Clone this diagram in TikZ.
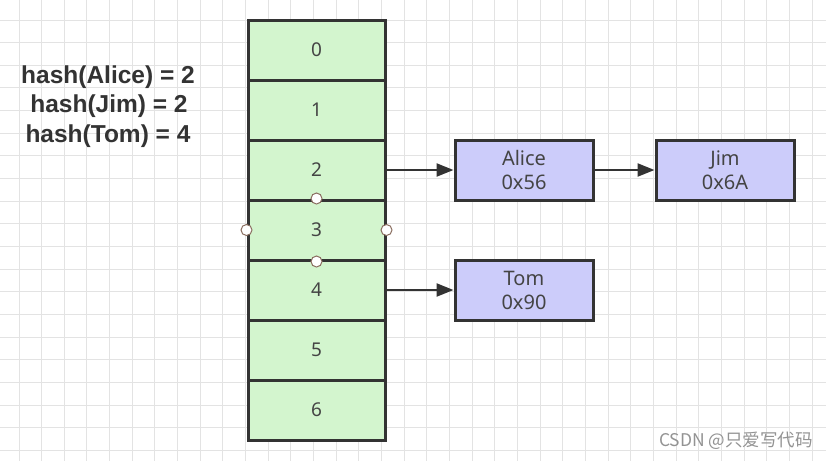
\documentclass[tikz,border=0pt]{standalone}
\usepackage{fontspec}
\setmainfont{Noto Sans}
\newfontfamily\hashfont{Liberation Sans}
\newfontfamily\cjkfont{Noto Sans CJK SC}
\usetikzlibrary{arrows.meta}
\definecolor{gridc}{HTML}{E3E3E3}
\definecolor{cellg}{HTML}{D3F5CE}
\definecolor{boxb}{HTML}{CCCCFA}
\definecolor{edgec}{HTML}{333333}
\definecolor{txtc}{HTML}{444444}
\definecolor{handlec}{HTML}{8A6E60}
\tikzset{
  cellbox/.style={draw=edgec, fill=cellg, line width=3pt, minimum width=137pt, minimum height=60pt, inner sep=0pt, text=txtc, font=\fontsize{19}{21}\selectfont},
  itembox/.style={draw=edgec, fill=boxb, line width=3pt, minimum width=138pt, minimum height=60pt, inner sep=0pt, text=txtc, align=center, font=\fontsize{20}{24}\selectfont},
  hashtxt/.style={font=\hashfont\bfseries\fontsize{24.5}{26}\selectfont, text=edgec, inner sep=0pt},
  link/.style={draw=edgec, line width=2.3pt, -{Triangle[length=17pt,width=13pt]}},
  handle/.style={circle, draw=handlec, fill=white, line width=1pt, minimum size=11pt, inner sep=0pt}
}
\begin{document}
\begin{tikzpicture}[x=1pt,y=-1pt]
\useasboundingbox (0,0) rectangle (826,461);
\fill[white] (0,0) rectangle (826,461);
% grid
\foreach \k in {-1,...,36} {\draw[gridc, line width=1pt] ({19+\k*22.66},0) -- ({19+\k*22.66},461);}
\foreach \k in {-1,...,20} {\draw[gridc, line width=1pt] (0,{20+\k*22.66}) -- (826,{20+\k*22.66});}
% hash texts
\node[hashtxt] (h1) at (108,77) {hash(Alice) = 2};
\node[hashtxt] (h2) at (109,106) {hash(Jim) = 2};
\node[hashtxt] (h3) at (108,136) {hash(Tom) = 4};
% table cells
\foreach \i in {0,...,6} {
  \node[cellbox] (c\i) at (316.5,{50+60*\i}) {\i};
}
% item boxes
\node[itembox] (alice) at (524,170) {Alice\\0x56};
\node[itembox] (jim) at (725,170) {Jim\\0x6A};
\node[itembox] (tom) at (524,290) {Tom\\0x90};
% links
\draw[link] (c2.east) -- (alice.west);
\draw[link] (alice.east) -- (jim.west);
\draw[link] (c4.east) -- (tom.west);
% selection handles on cell 3
\node[handle] (hn) at (c3.north) {};
\node[handle] (hs) at (c3.south) {};
\node[handle] (hw) at (c3.west) {};
\node[handle] (he) at (c3.east) {};
% watermark
\node[anchor=east, text=gray!85, inner sep=0pt, font=\cjkfont\fontsize{17.5}{20}\selectfont] (wm) at (813,441) {CSDN @只爱写代码};
\end{tikzpicture}
\end{document}
